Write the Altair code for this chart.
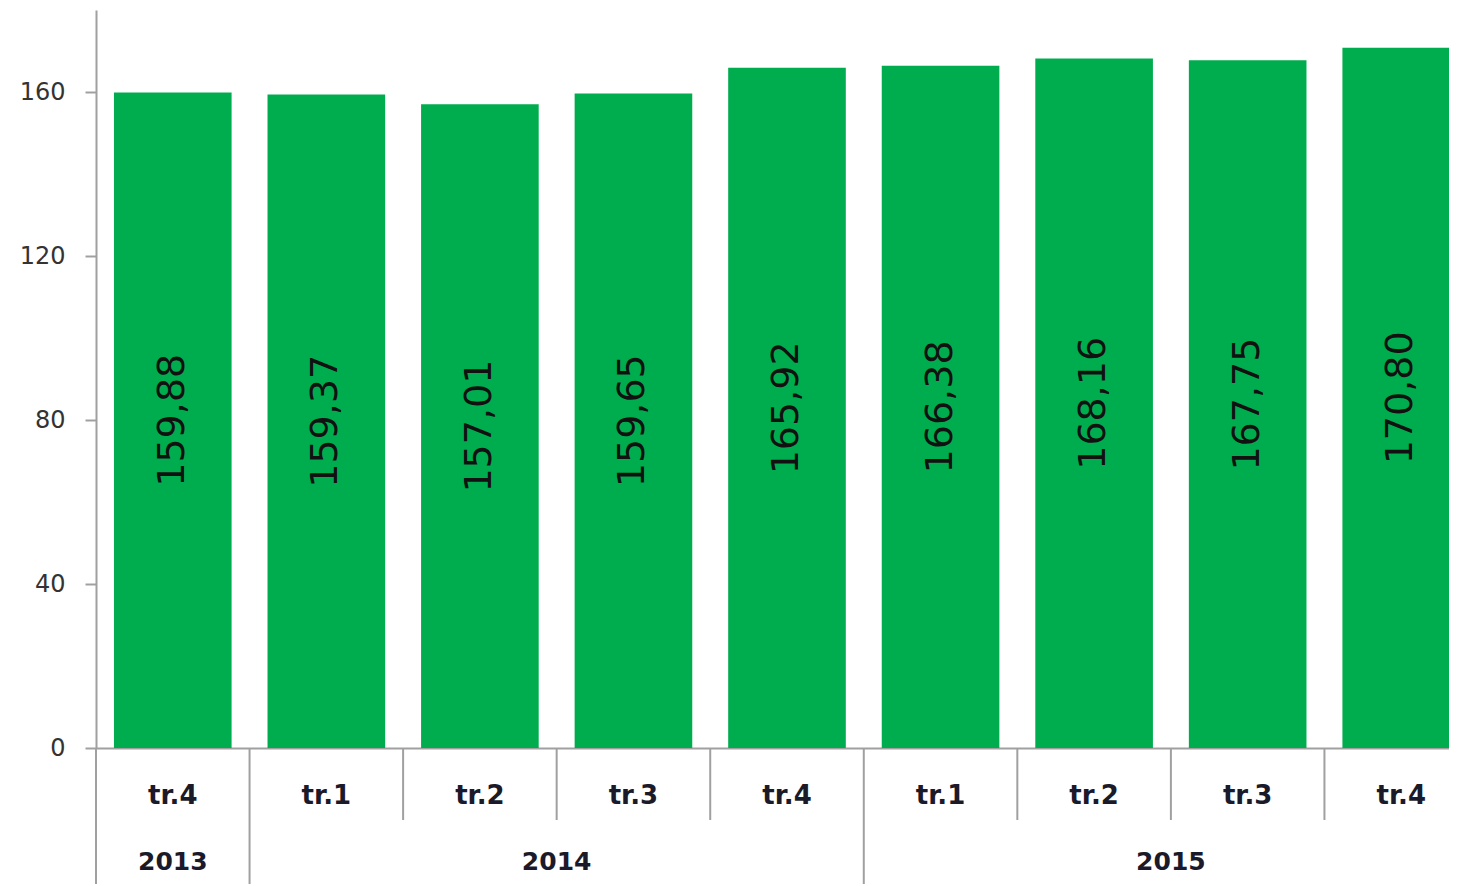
import altair as alt
import pandas as pd

# ---- data ----
years = ["2013", "2014", "2014", "2014", "2014", "2015", "2015", "2015", "2015"]
quarters = ["tr.4", "tr.1", "tr.2", "tr.3", "tr.4", "tr.1", "tr.2", "tr.3", "tr.4"]
values = [159.88, 159.37, 157.01, 159.65, 165.92, 166.38, 168.16, 167.75, 170.80]
y_ticks = [0, 40, 80, 120, 160]

keys = [f"{y}|{q}" for y, q in zip(years, quarters)]
bars = pd.DataFrame({"key": keys, "year": years, "quarter": quarters, "value": values})

# year groups (start index, end index exclusive)
groups = []
for i, y in enumerate(years):
    if not groups or groups[-1][0] != y:
        groups.append([y, i, i + 1])
    else:
        groups[-1][2] = i + 1
n = len(years)
year_df = pd.DataFrame({"year": [g[0] for g in groups],
                        "pos": [(g[1] + g[2]) / 2 for g in groups]})
year_bounds = sorted(set([g[1] for g in groups] + [n]))
short_df = pd.DataFrame({"pos": [i for i in range(1, n) if i not in year_bounds]})
long_df = pd.DataFrame({"pos": year_bounds})

# ---- layout ----
PLOT_W = 1382   # full extent of the category scale (last bar is cut off by the window)
VIEW_W = 1353
H = 738
GREEN = "#00AD4E"
GRAY = "#A0A0A0"
FONT = "DejaVu Sans"

xband = alt.X("key:N", sort=keys,
              scale=alt.Scale(paddingInner=0.234, paddingOuter=0.117, range=[0, PLOT_W]),
              axis=alt.Axis(title=None, labelExpr="split(datum.value, '|')[1]",
                            labelAngle=0, labelFont=FONT, labelFontSize=26,
                            labelFontWeight="bold", labelColor="#1a1a2a",
                            labelBaseline="middle", labelPadding=47,
                            ticks=False, tickSize=0,
                            domainColor=GRAY, domainWidth=2))
yq = alt.Y("value:Q", scale=alt.Scale(domain=[0, 180], nice=False),
           axis=alt.Axis(title=None, values=y_ticks, grid=False,
                         labelFont=FONT, labelFontSize=24, labelColor="#333333",
                         labelPadding=20, tickSize=11, tickColor=GRAY, tickWidth=2,
                         domainColor=GRAY, domainWidth=2))

base = alt.Chart(bars)
bar_layer = base.mark_bar(color=GREEN).encode(x=xband, y=yq)
text_layer = base.transform_calculate(
    mid="datum.value / 2",
    lab="replace(format(datum.value, '.2f'), '.', ',')"
).mark_text(angle=270, font=FONT, fontSize=38, color="#111111",
            align="center", baseline="middle").encode(
    x=xband, y=alt.Y("mid:Q"), text="lab:N")

main = alt.layer(bar_layer, text_layer)

xq = alt.X("pos:Q", scale=alt.Scale(domain=[0, n], range=[0, PLOT_W], nice=False, zero=False),
           axis=None)
short_rules = alt.Chart(short_df).mark_rule(color=GRAY, strokeWidth=2).encode(
    x=xq, y=alt.value(H), y2=alt.value(H + 72))
long_rules = alt.Chart(long_df).mark_rule(color=GRAY, strokeWidth=2).encode(
    x=xq, y=alt.value(H), y2=alt.value(H + 160))
year_text = alt.Chart(year_df).mark_text(font=FONT, fontSize=25, fontWeight="bold",
                                         color="#1a1a2a", baseline="middle").encode(
    x=xq, y=alt.value(H + 114), text="year:N")
lower = alt.layer(short_rules, long_rules, year_text)

chart = alt.layer(main, lower).resolve_scale(x="independent").properties(
    width=VIEW_W, height=H,
    autosize=alt.AutoSizeParams(type="none"),
    padding={"left": 88, "top": 2, "right": 0, "bottom": 136},
).configure_view(stroke=None)

chart.save("out.html", embed_options={"renderer": "svg", "actions": False})
